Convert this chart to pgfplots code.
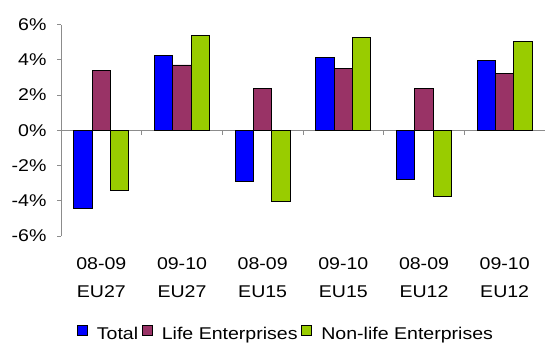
\documentclass[border=0pt]{standalone}
\usepackage{pgfplots}
\pgfplotsset{compat=1.18}
\usepackage{fontspec}
\setmainfont[FakeStretch=1.15]{Liberation Sans}
\definecolor{cTotal}{HTML}{0000FF}
\definecolor{cLife}{HTML}{993366}
\definecolor{cNon}{HTML}{99CC00}
\definecolor{axgray}{HTML}{8C8C8C}
\begin{document}
\begin{tikzpicture}[x=1bp,y=1bp]
\useasboundingbox (0,0) rectangle (545,342);
\begin{axis}[
  at={(61bp,106bp)}, anchor=south west,
  width=484bp, height=211.33bp, scale only axis,
  xmin=-0.5, xmax=5.5, ymin=-6, ymax=6,
  axis lines*=left,
  x axis line style={draw=none},
  y axis line style={axgray, line width=0.8pt},
  ybar=0pt, bar width=0.228,
  xtick={0,1,2,3,4,5},
  xticklabels={{08-09\\EU27},{09-10\\EU27},{08-09\\EU15},{09-10\\EU15},{08-09\\EU12},{09-10\\EU12}},
  xticklabel style={align=center, font={\fontsize{17bp}{28bp}\selectfont}, yshift=-14bp},
  xtick style={draw=none},
  ytick={-6,-4,-2,0,2,4,6},
  yticklabels={-6\%,-4\%,-2\%,0\%,2\%,4\%,6\%},
  yticklabel style={font={\fontsize{17bp}{20bp}\selectfont}, xshift=-7bp},
  ytick style={axgray, line width=0.8pt},
  tick align=outside, major tick length=4bp,
  legend columns=-1,
  legend style={draw=none, fill=none, at={(0.463,-0.5016)}, anchor=south, inner sep=0pt,
    font={\fontsize{17bp}{20bp}\selectfont},
    nodes={inner sep=0.5bp},
    /tikz/every even column/.append style={column sep=3bp},
    /tikz/every odd column/.append style={column sep=9bp}},
  legend image code/.code={\draw[#1,draw=black,line width=0.7pt] (0bp,-1bp) rectangle (10bp,9bp);},
]
\draw[axgray, line width=0.8pt] (axis cs:-0.5,0) -- (axis cs:5.5,0);
\pgfplotsinvokeforeach{0.5,1.5,2.5,3.5,4.5}{\draw[axgray, line width=0.8pt] (axis cs:#1,0) -- ++(0bp,-5bp);}
\addplot[fill=cTotal, draw=black, line width=0.9pt] coordinates {(0,-4.45) (1,4.24) (2,-2.89) (3,4.14) (4,-2.81) (5,3.94)};
\addplot[fill=cLife, draw=black, line width=0.9pt] coordinates {(0,3.41) (1,3.71) (2,2.38) (3,3.51) (4,2.38) (5,3.21)};
\addplot[fill=cNon, draw=black, line width=0.9pt] coordinates {(0,-3.41) (1,5.38) (2,-4.03) (3,5.27) (4,-3.73) (5,5.06)};
\legend{Total, Life Enterprises, Non-life Enterprises}
\end{axis}
\end{tikzpicture}
\end{document}
